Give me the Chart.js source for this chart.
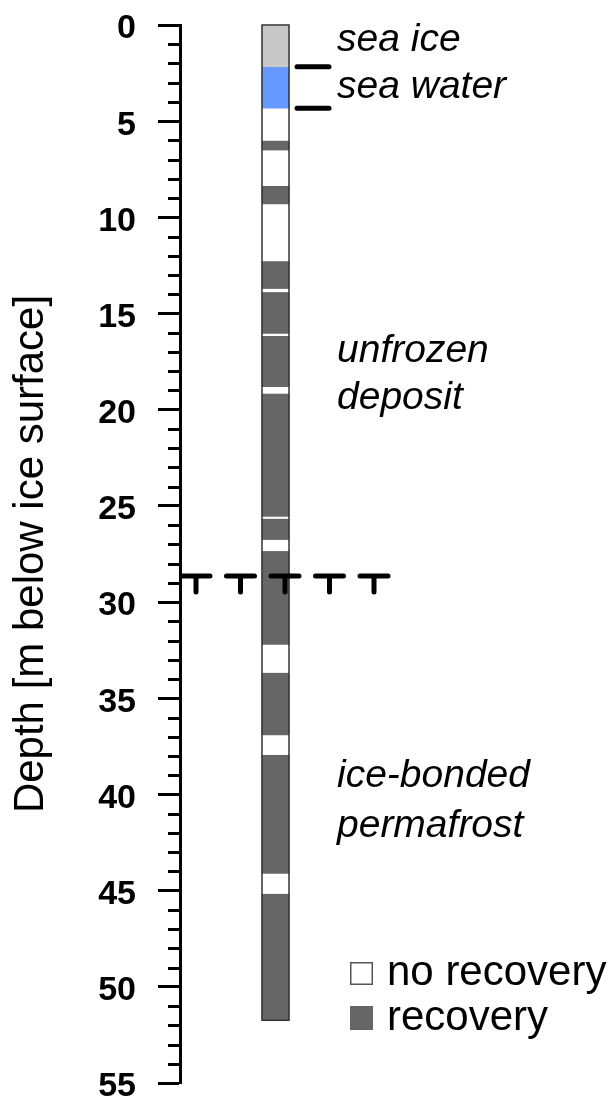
<!DOCTYPE html>
<html>
<head>
<meta charset="utf-8">
<script src="https://cdn.jsdelivr.net/npm/chart.js@4.4.1/dist/chart.umd.min.js"></script>
<style>
  html, body { margin: 0; padding: 0; background: #fff; }
  #wrap { width: 614px; height: 1101px; }
</style>
</head>
<body>
<div id="wrap"><canvas id="coreChart"></canvas></div>
<script>
// Core log: boundaries of each unit, m below ice surface
const depthBreaks = [0, 2.17, 4.33, 6.0, 6.5, 8.35, 9.3, 12.27, 13.7, 13.87, 16.03, 16.15,
    18.8, 19.15, 25.55, 25.65, 26.75, 27.33, 32.2, 33.66, 36.9, 37.93, 44.1, 45.15, 51.74];
const unitType = ['sea ice', 'sea water',
    'no recovery', 'recovery', 'no recovery', 'recovery', 'no recovery', 'recovery',
    'no recovery', 'recovery', 'no recovery', 'recovery', 'no recovery', 'recovery',
    'no recovery', 'recovery', 'no recovery', 'recovery', 'no recovery', 'recovery',
    'no recovery', 'recovery', 'no recovery', 'recovery'];
const permafrostTop = 28.65; // top of ice-bonded permafrost

// Axis
const depthMin = 0;
const depthMax = 55;
const majorStep = 5;

// Text
const zoneLabels = [['sea ice'], ['sea water'], ['unfrozen', 'deposit'], ['ice-bonded', 'permafrost']];
const legendItems = ['no recovery', 'recovery'];

const unitColors = {
    'sea ice': '#c8c8c8',
    'sea water': '#6699ff',
    'no recovery': '#ffffff',
    'recovery': '#666666'
};
const fontFamily = "'Liberation Sans', Arial, Helvetica, sans-serif";

// one floating bar per unit, all on the same column
const datasets = unitType.map((type, i) => ({
    label: type,
    data: [[depthBreaks[i], depthBreaks[i + 1]]],
    backgroundColor: unitColors[type],
    borderWidth: 0,
    grouped: false,
    barThickness: 27
}));

// decorations: minor ticks, column outline, water markers, permafrost table, labels, legend
const coreDecor = {
    id: 'coreDecor',
    afterDraw(chart) {
        const { ctx, chartArea, scales: { y } } = chart;
        const axisX = chartArea.left;
        const bar = chart.getDatasetMeta(0).data[0];
        const barLeft = bar.x - bar.width / 2;
        const barRight = bar.x + bar.width / 2;
        ctx.save();

        // minor ticks every metre
        ctx.strokeStyle = '#000';
        ctx.lineWidth = 3;
        for (let d = depthMin; d <= depthMax; d++) {
            if (d % majorStep === 0) continue;
            const py = Math.round(y.getPixelForValue(d)) + 0.5;
            ctx.beginPath();
            ctx.moveTo(axisX - 12, py);
            ctx.lineTo(axisX, py);
            ctx.stroke();
        }

        // column outline
        const topPx = y.getPixelForValue(depthBreaks[0]);
        const botPx = y.getPixelForValue(depthBreaks[depthBreaks.length - 1]);
        ctx.strokeStyle = '#333';
        ctx.lineWidth = 1.5;
        ctx.strokeRect(barLeft, topPx, bar.width, botPx - topPx);

        // sea ice / sea water boundaries
        ctx.strokeStyle = '#000';
        ctx.lineWidth = 5;
        ctx.lineCap = 'round';
        [depthBreaks[1], depthBreaks[2]].forEach(d => {
            const py = y.getPixelForValue(d);
            ctx.beginPath();
            ctx.moveTo(barRight + 8, py);
            ctx.lineTo(barRight + 40, py);
            ctx.stroke();
        });

        // permafrost table symbol
        const pf = y.getPixelForValue(permafrostTop);
        ctx.lineWidth = 5;
        for (let k = 0; k < 5; k++) {
            const cx = axisX + 16 + k * 44.5;
            ctx.beginPath();
            ctx.moveTo(cx - 14, pf);
            ctx.lineTo(cx + 14, pf);
            ctx.moveTo(cx, pf);
            ctx.lineTo(cx, pf + 16);
            ctx.stroke();
        }

        // zone labels
        ctx.fillStyle = '#000';
        ctx.font = 'italic 39px ' + fontFamily;
        ctx.textAlign = 'left';
        ctx.textBaseline = 'alphabetic';
        const labelDepths = [[1.35], [3.8], [17.5, 19.95], [39.6, 42.2]];
        const textX = barRight + 48;
        zoneLabels.forEach((lines, i) => {
            lines.forEach((txt, j) => {
                ctx.fillText(txt, textX, y.getPixelForValue(labelDepths[i][j]));
            });
        });

        // legend
        const lx = 350, ly = 962, box = 23;
        ctx.lineWidth = 1.5;
        ctx.lineCap = 'butt';
        ctx.fillStyle = unitColors['no recovery'];
        ctx.fillRect(lx, ly, box, box);
        ctx.strokeStyle = '#555';
        ctx.strokeRect(lx + 0.75, ly + 0.75, box - 1.5, box - 1.5);
        ctx.fillStyle = unitColors['recovery'];
        ctx.fillRect(lx, ly + 44, box, box + 1);
        ctx.fillStyle = '#000';
        ctx.font = '42px ' + fontFamily;
        ctx.fillText(legendItems[0], lx + 37, ly + 23);
        ctx.fillText(legendItems[1], lx + 37, ly + 68);
        ctx.restore();
    }
};

const chart = new Chart(document.getElementById('coreChart'), {
    type: 'bar',
    data: {
        labels: ['core'],
        datasets: datasets
    },
    plugins: [coreDecor],
    options: {
        responsive: true,
        maintainAspectRatio: false,
        animation: false,
        layout: { padding: { top: 25, bottom: 18, left: 0, right: 243 } },
        plugins: {
            legend: { display: false },
            tooltip: { enabled: false }
        },
        scales: {
            x: {
                type: 'category',
                display: false,
                offset: true
            },
            y: {
                type: 'linear',
                reverse: true,
                min: depthMin,
                max: depthMax,
                afterFit(scale) {
                    scale.width = 180;
                    scale.paddingTop = 0;
                    scale.paddingBottom = 0;
                },
                border: { display: true, color: '#000', width: 3 },
                grid: {
                    drawOnChartArea: false,
                    drawTicks: true,
                    tickLength: 22,
                    tickWidth: 3,
                    tickColor: c => (c.tick && c.tick.value % majorStep === 0) ? '#000' : 'rgba(0,0,0,0)'
                },
                ticks: {
                    stepSize: 1,
                    autoSkip: false,
                    padding: 22,
                    labelOffset: 4,
                    color: '#000',
                    font: { family: fontFamily, size: 34, weight: 'bold', lineHeight: 1 },
                    callback: v => (v % majorStep === 0 ? v : '')
                },
                title: {
                    display: true,
                    text: 'Depth [m below ice surface]',
                    color: '#000',
                    font: { family: fontFamily, size: 42 },
                    padding: { top: 6, bottom: 6 }
                }
            }
        }
    }
});
</script>
</body>
</html>
